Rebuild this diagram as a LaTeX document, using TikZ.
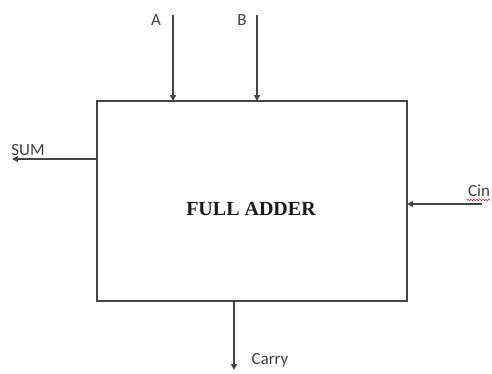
\documentclass[tikz,border=0pt]{standalone}
\usepackage{fontspec}
\setmainfont{Liberation Serif}
\newfontfamily\lblfont{Carlito}
\usetikzlibrary{arrows.meta,decorations.pathmorphing}
\definecolor{linec}{HTML}{454545}
\definecolor{lblc}{HTML}{404040}
\tikzset{
  wire/.style={draw=linec, line width=1.6pt, -{Triangle[length=6pt,width=6pt]}},
  lbl/.style={text=lblc, font=\lblfont\fontsize{17}{19}\selectfont, inner sep=0pt},
  blockbox/.style={draw=linec, line width=1.6pt, minimum width=310pt, minimum height=200pt, inner sep=0pt}
}
\begin{document}
\begin{tikzpicture}[x=1pt,y=-1pt]
\useasboundingbox (0,0) rectangle (492,373);
\node[blockbox] (fa) at (252,201) {};
\node[font=\bfseries\fontsize{20}{22}\selectfont, text=black!90] (title) at (251,209) {FULL ADDER};
% inputs A, B
\coordinate (aS) at (173,15);
\coordinate (bS) at (257,15);
\coordinate (aE) at (173,101);
\coordinate (bE) at (257,101);
\draw[wire] (aS) -- (aE);
\draw[wire] (bS) -- (bE);
\node[lbl] (la) at (156,20) {A};
\node[lbl] (lb) at (242,20) {B};
% SUM
\coordinate (sS) at (97,159);
\coordinate (sE) at (12,159);
\draw[wire] (sS) -- (sE);
\node[lbl] (lsum) at (28,150) {SUM};
% Cin
\coordinate (cS) at (482,204);
\coordinate (cE) at (407,204);
\draw[wire] (cS) -- (cE);
\node[lbl] (lcin) at (479,191) {Cin};
\coordinate (u1) at (467,200);
\coordinate (u2) at (490,200);
\draw[red!85!black, line width=0.6pt, decorate, decoration={snake,amplitude=0.6pt,segment length=3pt}] (u1) -- (u2);
% Carry
\coordinate (kS) at (234,301);
\coordinate (kE) at (234,370);
\draw[wire] (kS) -- (kE);
\node[lbl] (lcarry) at (270,360) {Carry};
\end{tikzpicture}
\end{document}
